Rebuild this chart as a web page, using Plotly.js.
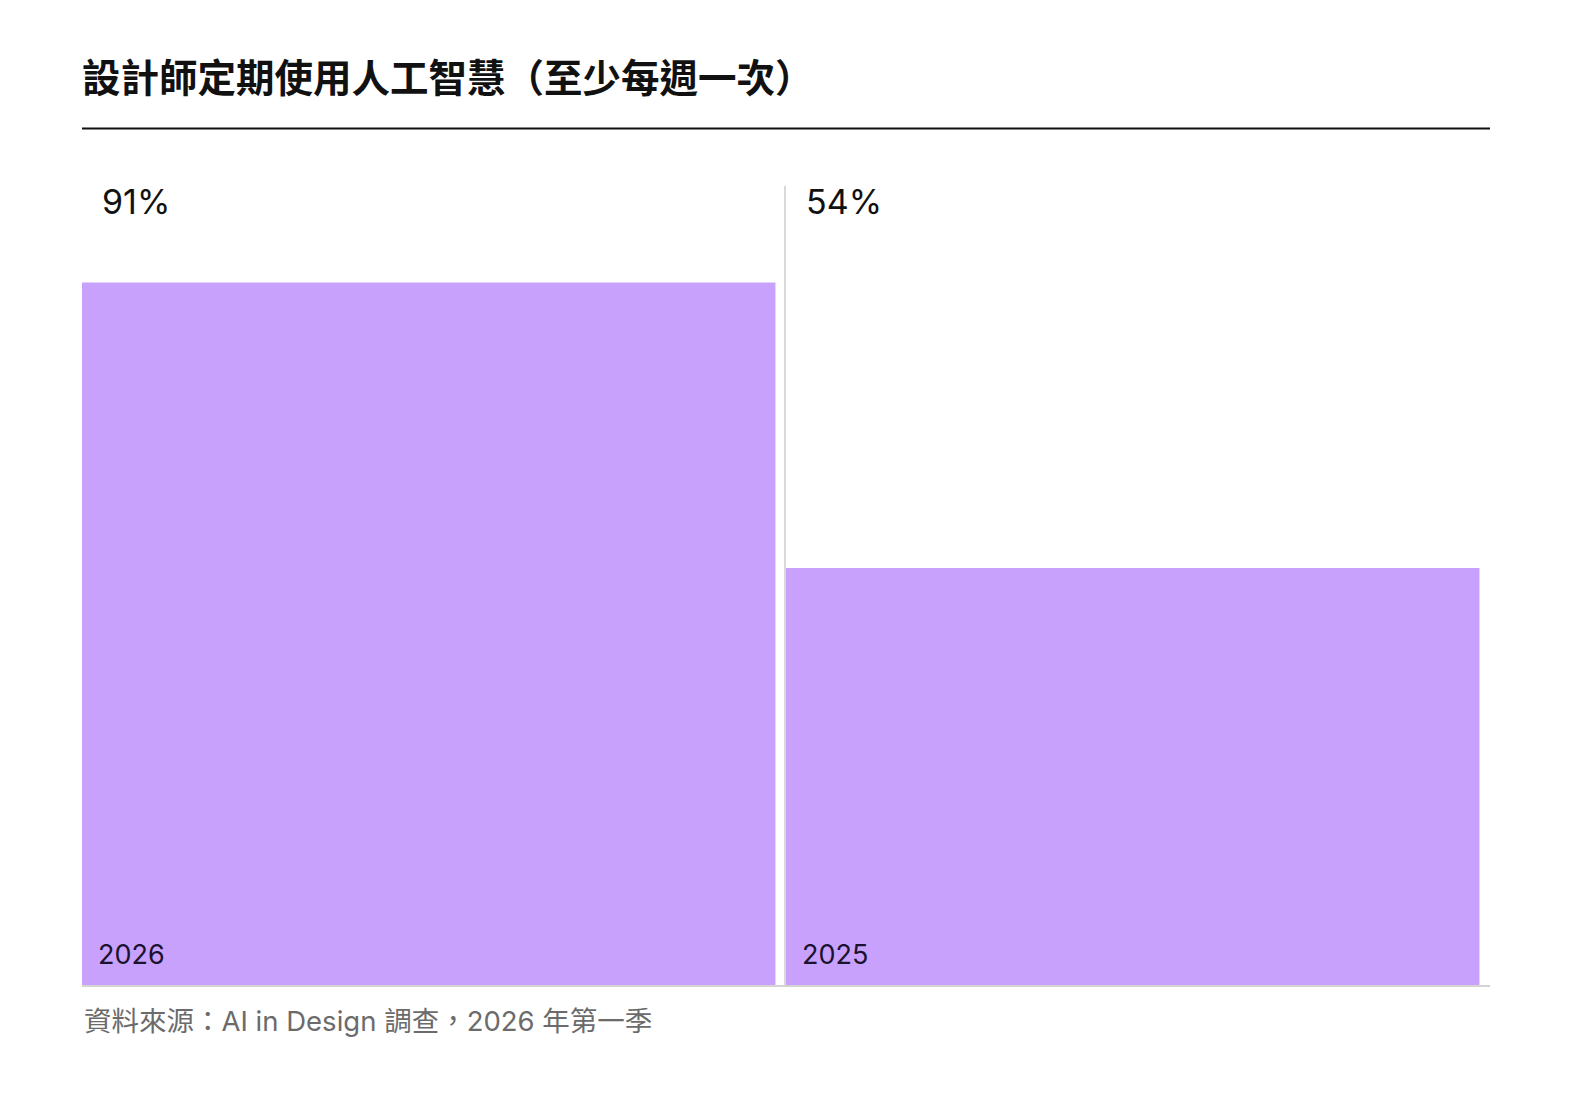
<!DOCTYPE html>
<html>
<head>
<meta charset="utf-8">
<script src="https://cdn.plot.ly/plotly-3.0.1.min.js"></script>
<style>
  html, body { margin: 0; padding: 0; background: #fff; }
  #chart { width: 1582px; height: 1094px; }
</style>
</head>
<body>
<div id="chart"></div>
<script>
// data
var years = ['2026', '2025'];
var shares = [91, 54];
var shareLabels = ['91%', '54%'];

var titleText = '設計師定期使用人工智慧（至少每週一次）';
var sourceText = '資料來源：AI in Design 調查，2026 年第一季';

var latin = 'Inter, "Noto Sans CJK TC", sans-serif';

var bars = {
    x: years,
    y: shares,
    type: 'bar',
    offset: -0.5,
    width: 0.985,
    marker: { color: '#c8a1fd', line: { width: 0 } },
    hoverinfo: 'skip'
};

var annotations = [];
for (var i = 0; i < years.length; i++) {
    // big percentage above each slot
    annotations.push({
        x: i - 0.5, xref: 'x', xanchor: 'left', xshift: 18,
        y: 1.0155, yref: 'paper', yanchor: 'middle',
        text: shareLabels[i], showarrow: false,
        font: { family: latin, size: 34, color: '#111111' }
    });
    // year inside the bar, bottom left
    annotations.push({
        x: i - 0.5, xref: 'x', xanchor: 'left', xshift: 14,
        y: 0.039, yref: 'paper', yanchor: 'middle',
        text: years[i], showarrow: false,
        font: { family: latin, size: 27, color: '#1b1230' }
    });
}
annotations.push({
    x: 0, xref: 'paper', xanchor: 'left',
    y: -0.0466, yref: 'paper', yanchor: 'middle',
    text: sourceText, showarrow: false,
    font: { family: latin, size: 27.5, color: '#6b6b6b' }
});

var layout = {
    width: 1582,
    height: 1094,
    paper_bgcolor: '#ffffff',
    plot_bgcolor: '#ffffff',
    showlegend: false,
    margin: { l: 82, r: 92, t: 212.5, b: 109 },
    title: {
        text: '<b>' + titleText + '</b>',
        x: 0, xref: 'paper', xanchor: 'left',
        y: 0.928, yref: 'container', yanchor: 'middle',
        font: { family: '"Noto Sans CJK TC", sans-serif', size: 38.5, color: '#111111' }
    },
    xaxis: {
        type: 'category',
        range: [-0.5, 1.5],
        showticklabels: false,
        ticks: '',
        showgrid: false,
        zeroline: false,
        showline: true,
        linecolor: '#d4d4d4',
        linewidth: 1.5,
        fixedrange: true
    },
    yaxis: {
        range: [0, 100],
        showticklabels: false,
        showgrid: false,
        zeroline: false,
        showline: false,
        fixedrange: true
    },
    shapes: [
        // black rule under the title
        { type: 'line', xref: 'paper', yref: 'paper', x0: 0, x1: 1, y0: 1.1094, y1: 1.1094,
          line: { color: '#111111', width: 2 } },
        // thin divider between the two slots
        { type: 'line', xref: 'x', yref: 'paper', x0: 0.4986, x1: 0.4986, y0: 0, y1: 1.035,
          line: { color: '#d9d9d9', width: 2 } }
    ],
    annotations: annotations
};

Plotly.newPlot('chart', [bars], layout, { displayModeBar: false, staticPlot: true });
</script>
</body>
</html>
